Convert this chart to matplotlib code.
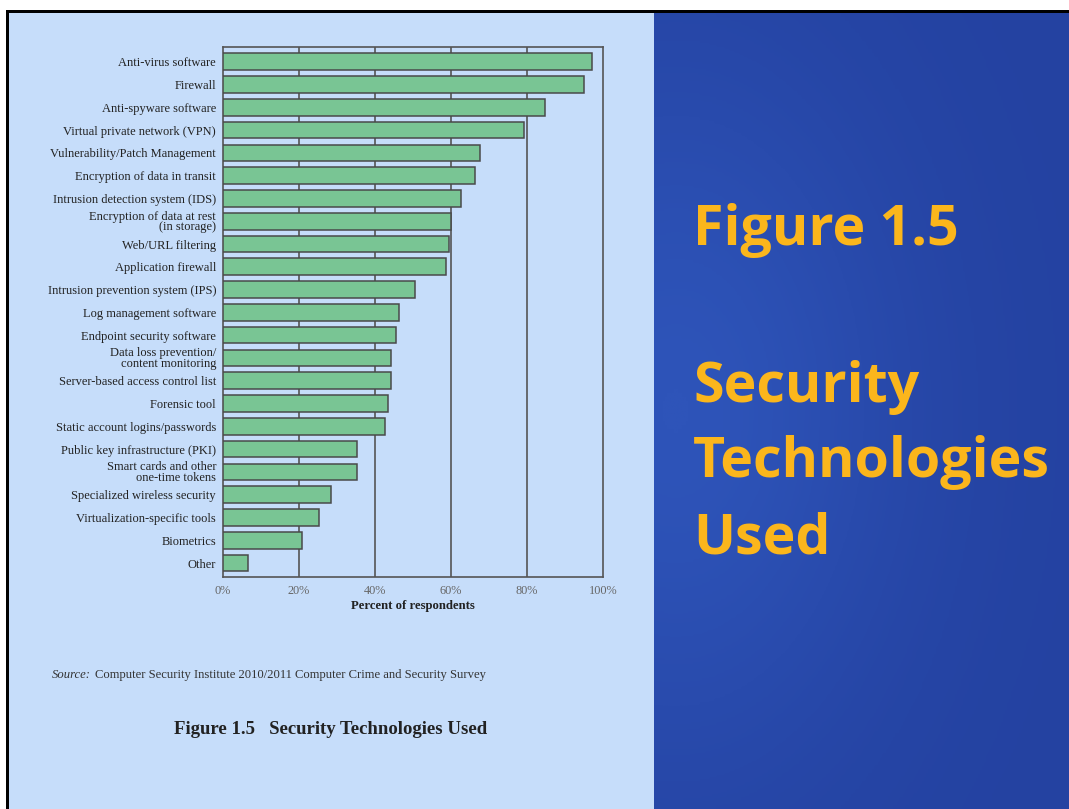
import numpy as np
import matplotlib
matplotlib.use("Agg")
import matplotlib.pyplot as plt
from matplotlib.colors import LinearSegmentedColormap
from matplotlib.patches import Rectangle

categories = [
    "Anti-virus software",
    "Firewall",
    "Anti-spyware software",
    "Virtual private network (VPN)",
    "Vulnerability/Patch Management",
    "Encryption of data in transit",
    "Intrusion detection system (IDS)",
    "Encryption of data at rest\n(in storage)",
    "Web/URL filtering",
    "Application firewall",
    "Intrusion prevention system (IPS)",
    "Log management software",
    "Endpoint security software",
    "Data loss prevention/\ncontent monitoring",
    "Server-based access control list",
    "Forensic tool",
    "Static account logins/passwords",
    "Public key infrastructure (PKI)",
    "Smart cards and other\none-time tokens",
    "Specialized wireless security",
    "Virtualization-specific tools",
    "Biometrics",
    "Other",
]
percent = [97.2, 95.1, 84.7, 79.1, 67.6, 66.3, 62.5, 59.9, 59.5, 58.6, 50.5,
           46.3, 45.4, 44.1, 44.1, 43.3, 42.6, 35.2, 35.2, 28.3, 25.3, 20.7, 6.5]
xticks = [0, 20, 40, 60, 80, 100]
xtick_labels = ["0%", "20%", "40%", "60%", "80%", "100%"]

W, H = 1069, 809
fig = plt.figure(figsize=(W / 100, H / 100), dpi=100)
fig.patch.set_facecolor("white")

# slide background: light panel on the left, blue gradient panel on the right
light = "#c6ddfa"
fig.patches.append(Rectangle((8 / W, 0), (654 - 8) / W, (H - 13) / H,
                             transform=fig.transFigure, facecolor=light,
                             edgecolor="none", zorder=0))
bg = fig.add_axes([654 / W, 0, (W - 654) / W, (H - 13) / H], zorder=0)
yy, xx = np.mgrid[0:1:200j, 0:1:200j]
glow = np.exp(-((xx - 0.05) ** 2 / 0.3 + (yy - 0.5) ** 2 / 0.2))
cmap = LinearSegmentedColormap.from_list("slide", ["#2442a1", "#2e54b9"])
bg.imshow(glow, cmap=cmap, aspect="auto", extent=[0, 1, 0, 1], vmin=0, vmax=1)
bg.set_axis_off()

# black border lines
fig.patches.append(Rectangle((6 / W, (H - 13) / H), (W - 6) / W, 2.5 / H,
                             transform=fig.transFigure, facecolor="black",
                             edgecolor="none", zorder=5))
fig.patches.append(Rectangle((6 / W, 0), 2.5 / W, (H - 11) / H,
                             transform=fig.transFigure, facecolor="black",
                             edgecolor="none", zorder=5))

# bar chart
ax = fig.add_axes([223 / W, 1 - 576.7 / H, 380 / W, 530 / H], zorder=2)
ax.set_facecolor("none")
y = np.arange(len(categories))
ax.barh(y, percent, height=0.73, color="#79c594", edgecolor="#4a4a4a",
        linewidth=1.1, zorder=3)
ax.set_xlim(0, 100)
ax.set_ylim(len(categories) - 0.4, -0.66)
ax.set_yticks(y)
ax.set_yticklabels(categories, fontsize=9.0, family="Liberation Serif",
                   color="#222222", linespacing=0.82)
ax.set_xticks(xticks)
ax.set_xticklabels(xtick_labels, fontsize=8.8, family="Liberation Serif",
                   color="#666666")
ax.tick_params(axis="both", length=0)
ax.tick_params(axis="x", pad=6)
ax.tick_params(axis="y", pad=5)
for v in xticks[1:-1]:
    ax.axvline(v, color="#555555", linewidth=1.2, zorder=1)
for s in ax.spines.values():
    s.set_color("#555555")
    s.set_linewidth(1.2)
ax.set_xlabel("Percent of respondents", fontsize=9.2, family="Liberation Serif",
              fontweight="bold", color="#222222", labelpad=2)

# source and caption
fig.text(52 / W, 1 - 675 / H, "Source:", style="italic", fontsize=9.1,
         family="Liberation Serif", color="#333333", va="center")
fig.text(95 / W, 1 - 675 / H,
         "Computer Security Institute 2010/2011 Computer Crime and Security Survey",
         fontsize=9.1, family="Liberation Serif", color="#333333", va="center")
fig.text(331 / W, 1 - 729 / H, "Figure 1.5   Security Technologies Used",
         fontsize=13.5, fontweight="bold", family="Liberation Serif",
         color="#222222", ha="center", va="center")

# slide title on the right
yellow = "#fbb61c"
title_lines = [("Figure 1.5", 245), ("Security", 402), ("Technologies", 477), ("Used", 553)]
for txt, base in title_lines:
    fig.text(693 / W, 1 - base / H, txt, fontsize=40, fontweight="bold",
             family="Open Sans", color=yellow, ha="left", va="baseline", zorder=6)

fig.savefig("out.png", dpi=100, facecolor=fig.get_facecolor())
